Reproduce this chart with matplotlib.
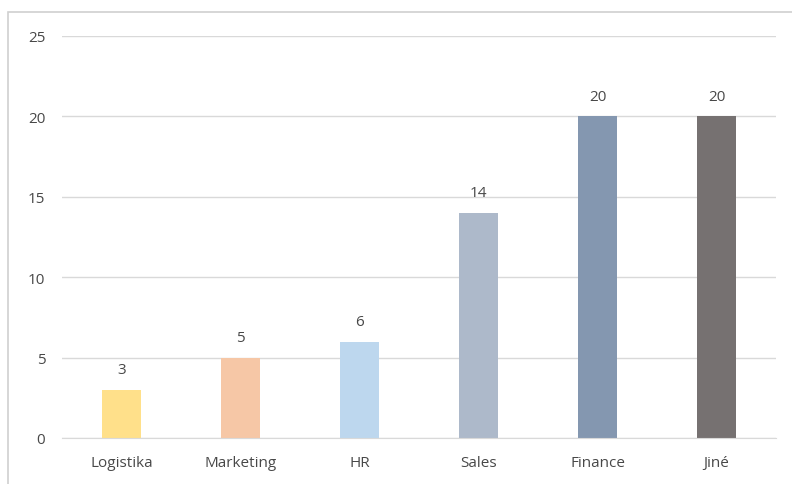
import matplotlib.pyplot as plt
from matplotlib.patches import Rectangle

categories = ['Logistika', 'Marketing', 'HR', 'Sales', 'Finance', 'Jiné']
values = [3, 5, 6, 14, 20, 20]
bar_colors = ['#FFE08A', '#F6C7A6', '#BDD7EE', '#ADB9CA', '#8497B0', '#767171']
y_ticks = [0, 5, 10, 15, 20, 25]

plt.rcParams['font.family'] = ['Open Sans', 'DejaVu Sans']
text_color = '#484848'

fig = plt.figure(figsize=(7.92, 4.85), dpi=100)
ax = fig.add_axes([62 / 792, 1 - 439 / 485, 714 / 792, (439 - 37) / 485])

x = list(range(len(categories)))
ax.bar(x, values, width=0.32, color=bar_colors, zorder=3)

# value labels above each bar
for xi, v in zip(x, values):
    ax.text(xi, v + 0.8, str(v), ha='center', va='bottom',
            fontsize=11, color=text_color)

ax.set_xlim(-0.5, len(categories) - 0.5)
ax.set_ylim(0, 25)
ax.set_yticks(y_ticks)
ax.set_xticks(x)
ax.set_xticklabels(categories)
ax.tick_params(axis='both', length=0, labelsize=11, labelcolor=text_color)
ax.tick_params(axis='y', pad=12)
ax.tick_params(axis='x', pad=12)

ax.grid(axis='y', color='#D9D9D9', linewidth=1, zorder=0)
for side in ['top', 'right', 'left']:
    ax.spines[side].set_visible(False)
ax.spines['bottom'].set_color('#D9D9D9')
ax.spines['bottom'].set_zorder(4)

# outer chart frame (top and left edges visible)
frame = Rectangle((8 / 792, -0.1), 1.2, 1 - 13 / 485 + 0.1,
                  transform=fig.transFigure, fill=False,
                  edgecolor='#D0D0D0', linewidth=1.2)
fig.patches.append(frame)

fig.savefig('out.png', dpi=100)
